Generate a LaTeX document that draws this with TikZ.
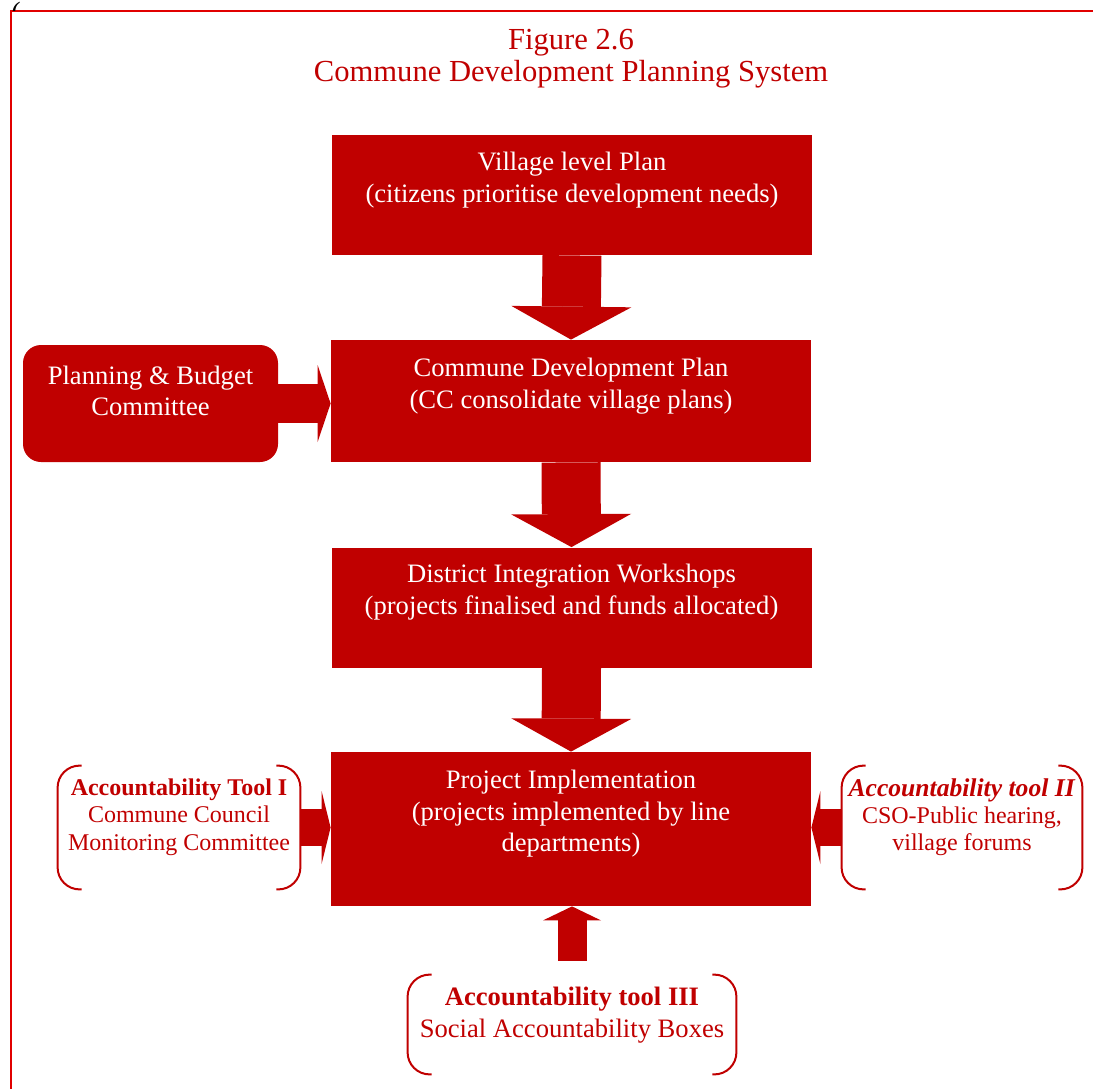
\documentclass[tikz,border=0pt]{standalone}
\usepackage{fontspec}
\setmainfont{Liberation Serif}
\usetikzlibrary{positioning, arrows.meta, calc}
\definecolor{cR}{RGB}{192,0,0}
\definecolor{cFrame}{RGB}{225,0,0}

% bracket pair round a tool node
\newcommand{\drawbrackets}[1]{%
  \draw[bracket] ([xshift=12pt]#1.north west) -- (#1.north west) -- (#1.south west) -- ([xshift=12pt]#1.south west);
  \draw[bracket] ([xshift=-12pt]#1.north east) -- (#1.north east) -- (#1.south east) -- ([xshift=-12pt]#1.south east);}

\begin{document}
\begin{tikzpicture}[x=0.5pt, y=-0.5pt,
    mainbox/.style={fill=cR, text=white, align=center, minimum width=240pt, minimum height=60pt,
                    text depth=18pt, font=\fontsize{13.3}{15.8}\selectfont},
    sidebox/.style={fill=cR, text=white, align=center, rounded corners=9pt, minimum width=127.5pt,
                    minimum height=58.5pt, text depth=13pt, font=\fontsize{13.3}{15.5}\selectfont},
    toolbox/.style={text=cR, align=center, inner sep=0pt, text depth=13pt,
                    font=\fontsize{12}{13.6}\selectfont},
    bracket/.style={draw=cR, line width=1pt, rounded corners=11pt},
    bigdown/.style={cR, line width=29.5pt, -{Triangle[width=60pt, length=16.5pt, line width=0pt]}},
    sidearrow/.style={cR, line width=19.5pt, -{Triangle[width=38.5pt, length=6.5pt, line width=0pt]}},
    toolarrow/.style={cR, line width=18.5pt, -{Triangle[width=36.5pt, length=4.5pt, line width=0pt]}},
    uparrow/.style={cR, line width=14.5pt, -{Triangle[width=29pt, length=7pt, line width=0pt]}}]

    \useasboundingbox (0,0) rectangle (1093,1088);

    % Frame
    \draw[cFrame, line width=1pt] (1100,11) -- (11,11) -- (11,1100);
    \begin{scope}
        \clip (0,0) rectangle (40,10);
        \node[inner sep=0pt, font=\fontsize{14}{14}\selectfont] (stray) at (16,15) {(};
    \end{scope}

    % Title
    \node[text=cR, align=center, font=\fontsize{15.3}{16}\selectfont] (title) at (571,59)
        {Figure 2.6\\Commune Development Planning System};

    % Node Placements
    \node[mainbox] (vil)  at (572,195)   {Village level Plan\\(citizens prioritise development needs)};
    \node[mainbox, minimum height=61pt] (cdp) at (571,401)
        {Commune Development Plan\\(CC consolidate village plans)};
    \node[mainbox] (diw)  at (571.5,607.5) {District Integration Workshops\\(projects finalised and funds allocated)};
    \node[mainbox, minimum height=77pt] (impl) at (571,829)
        {Project Implementation\\(projects implemented by line\\departments)};
    \node[sidebox] (pb) at (150.5,403.5) {Planning \& Budget\\Committee};

    \node[toolbox, minimum width=121pt, minimum height=61.5pt] (t1) at (179,827.5)
        {\textbf{Accountability Tool I}\\Commune Council\\Monitoring Committee};
    \node[toolbox, minimum width=120pt, minimum height=61.5pt] (t2) at (962,827.5)
        {{\fontsize{12.8}{13.6}\selectfont\textbf{\textit{Accountability tool II}}}\\CSO-Public hearing,\\village forums};
    \node[toolbox, minimum width=164pt, minimum height=49.5pt, text depth=12pt,
          font=\fontsize{13.3}{16}\selectfont] (t3) at (572,1024.5)
        {\textbf{Accountability tool III}\\Social Accountability Boxes};

    \drawbrackets{t1}
    \drawbrackets{t2}
    \drawbrackets{t3}

    % Block arrows
    \draw[bigdown] (vil.south) -- (cdp.north);
    \draw[bigdown] (cdp.south) -- (diw.north);
    \draw[bigdown] (diw.south) -- (impl.north);
    \draw[sidearrow] (pb.east) -- (pb.east -| cdp.west);
    \draw[toolarrow] (t1.east) -- (t1.east -| impl.west);
    \draw[toolarrow] (t2.west) -- (t2.west -| impl.east);
    \draw[uparrow, shorten <=7pt] (t3.north) -- (t3.north |- impl.south);
\end{tikzpicture}
\end{document}
